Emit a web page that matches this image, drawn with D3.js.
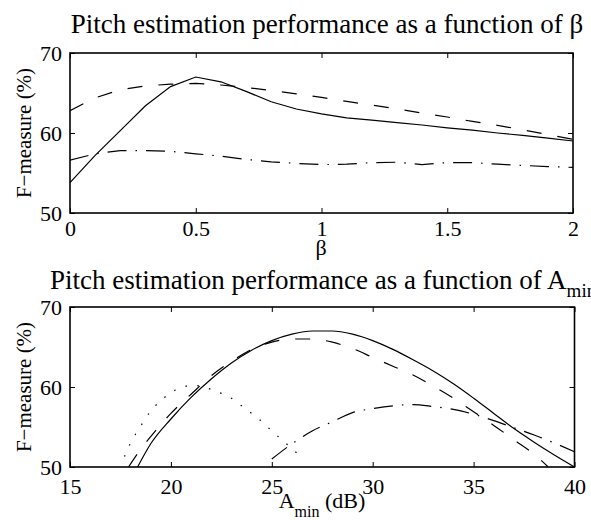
<!DOCTYPE html>
<html>
<head>
<meta charset="utf-8">
<script src="https://cdn.jsdelivr.net/npm/d3@7"></script>
<style>
  body { margin: 0; background: #fff; }
</style>
</head>
<body>
<div id="chart"></div>
<script>
// top panel: F-measure vs beta
const betaVals     = [0, 0.1, 0.2, 0.3, 0.4, 0.5, 0.6, 0.7, 0.8, 0.9, 1.0, 1.1, 1.2, 1.3, 1.4, 1.5, 1.6, 1.7, 1.8, 1.9, 2.0];
const betaSolid    = [53.8, 57.2, 60.3, 63.4, 65.8, 67.0, 66.4, 65.2, 63.9, 63.0, 62.4, 61.9, 61.6, 61.3, 61.0, 60.65, 60.35, 60.0, 59.7, 59.35, 59.0];
const betaDashed   = [62.8, 64.4, 65.4, 65.9, 66.1, 66.2, 66.0, 65.7, 65.3, 64.9, 64.45, 63.95, 63.5, 63.0, 62.5, 62.0, 61.45, 60.95, 60.4, 59.8, 59.2];
const betaDashDot  = [56.6, 57.4, 57.8, 57.8, 57.7, 57.4, 57.1, 56.7, 56.4, 56.2, 56.05, 56.1, 56.3, 56.35, 56.05, 56.3, 56.3, 56.1, 55.95, 55.8, 55.7];
const betaTicks    = [0, 0.5, 1, 1.5, 2];

// bottom panel: F-measure vs A_min (dB)
const aminSolidX   = [18.35, 19, 20, 21, 22, 23, 24, 25, 26, 27, 28, 29, 30, 31, 32, 33, 34, 35, 36, 37, 38, 39, 40];
const aminSolidY   = [50, 52.9, 56.0, 58.7, 61.0, 63.0, 64.6, 65.8, 66.6, 67.0, 67.0, 66.6, 65.8, 64.7, 63.4, 62.0, 60.4, 58.6, 56.7, 54.8, 53.1, 51.5, 50];
const aminDashedX  = [17.9, 18.5, 19, 20, 21, 22, 23, 24, 25, 26, 27, 28, 29, 30, 31, 32, 33, 34, 35, 36, 37, 38, 38.7];
const aminDashedY  = [50, 52.2, 53.8, 56.7, 59.1, 61.4, 63.2, 64.7, 65.6, 66.0, 66.0, 65.6, 64.8, 63.7, 62.6, 61.5, 60.1, 58.6, 56.9, 55.2, 53.4, 51.6, 50];
const aminDotX     = [17.7, 18, 18.5, 19, 19.5, 20, 20.5, 21, 21.5, 22, 22.5, 23, 23.5, 24, 24.5, 25, 25.5, 26, 26.6];
const aminDotY     = [51.3, 53.0, 55.1, 57.0, 58.3, 59.3, 59.9, 60.2, 60.1, 59.7, 59.2, 58.6, 57.65, 56.7, 55.7, 54.5, 53.4, 52.3, 50.9];
const aminDashDotX = [25, 26, 27, 28, 29, 30, 31, 32, 33, 34, 35, 36, 37, 38, 39, 40];
const aminDashDotY = [51.0, 52.9, 54.5, 55.65, 56.8, 57.3, 57.65, 57.8, 57.55, 57.2, 56.6, 55.8, 54.9, 54.0, 53.0, 51.9];
const aminTicks    = [15, 20, 25, 30, 35, 40];

const fTicks = [50, 60, 70];

const serif = "'Liberation Serif'";

const svg = d3.select("#chart").append("svg")
  .attr("width", 591)
  .attr("height", 520);

function zip(xs, ys){
  return xs.map((x, i) => [x, ys[i]]);
}

function drawPanel(p){
  let x = d3.scaleLinear().domain(p.xDomain).range([p.left, p.right]);
  let y = d3.scaleLinear().domain([50, 70]).range([p.bottom, p.top]);
  let g = svg.append("g");

  g.append("clipPath").attr("id", p.id + "-clip")
    .append("rect")
    .attr("x", p.left).attr("y", p.top)
    .attr("width", p.right - p.left).attr("height", p.bottom - p.top);

  let line = d3.line()
    .x(d => x(d[0]))
    .y(d => y(d[1]))
    .curve(p.curve);

  p.series.forEach(s => {
    g.append("path")
      .attr("d", line(s.data))
      .attr("clip-path", "url(#" + p.id + "-clip)")
      .attr("fill", "none")
      .attr("stroke", "#000")
      .attr("stroke-width", 1.2)
      .attr("stroke-dasharray", s.dash);
  });

  // ticks on all four sides, pointing in
  g.append("g").attr("transform", "translate(0," + p.bottom + ")")
    .call(d3.axisBottom(x).tickValues(p.xTicks).tickSize(-5).tickPadding(p.xPad).tickFormat(d => String(d)));
  g.append("g").attr("transform", "translate(0," + p.top + ")")
    .call(d3.axisTop(x).tickValues(p.xTicks).tickSize(-5).tickFormat(""));
  g.append("g").attr("transform", "translate(" + p.left + ",0)")
    .call(d3.axisLeft(y).tickValues(fTicks).tickSize(-5).tickPadding(8));
  g.append("g").attr("transform", "translate(" + p.right + ",0)")
    .call(d3.axisRight(y).tickValues(fTicks).tickSize(-5).tickFormat(""));

  g.selectAll(".domain").remove();
  g.selectAll(".tick line").attr("stroke", "#000").attr("stroke-width", 1);
  g.selectAll(".tick text")
    .style("font-family", serif)
    .style("font-size", "22px")
    .attr("fill", "#000");

  g.append("rect")
    .attr("x", p.left).attr("y", p.top)
    .attr("width", p.right - p.left).attr("height", p.bottom - p.top)
    .attr("fill", "none")
    .attr("stroke", "#000")
    .attr("stroke-width", 1.6);

  // y label
  g.append("text")
    .attr("transform", "translate(31," + ((p.top + p.bottom) / 2) + ") rotate(-90)")
    .attr("text-anchor", "middle")
    .style("font-family", serif)
    .style("font-size", "21px")
    .text("F\u2212measure (%)");

  return g;
}

let betaPanel = drawPanel({
  id: "beta",
  left: 70, right: 573, top: 53, bottom: 213,
  xDomain: [0, 2], xTicks: betaTicks, xPad: 7, curve: d3.curveLinear,
  series: [
    {data: zip(betaVals, betaSolid), dash: null},
    {data: zip(betaVals, betaDashed), dash: "15,16"},
    {data: zip(betaVals, betaDashDot), dash: "19,9,1.5,9"}
  ]
});

betaPanel.append("text")
  .attr("x", 327).attr("y", 33)
  .attr("text-anchor", "middle")
  .style("font-family", serif)
  .style("font-size", "27px")
  .text("Pitch estimation performance as a function of \u03b2");

betaPanel.append("text")
  .attr("x", 321).attr("y", 255)
  .attr("text-anchor", "middle")
  .style("font-family", serif)
  .style("font-size", "22px")
  .text("\u03b2");

let aminPanel = drawPanel({
  id: "amin",
  left: 70, right: 574.5, top: 307, bottom: 467,
  xDomain: [15, 40], xTicks: aminTicks, xPad: 11, curve: d3.curveMonotoneX,
  series: [
    {data: zip(aminSolidX, aminSolidY), dash: null},
    {data: zip(aminDashedX, aminDashedY), dash: "15,16"},
    {data: zip(aminDotX, aminDotY), dash: "1.5,10.5"},
    {data: zip(aminDashDotX, aminDashDotY), dash: "19,9,1.5,9"}
  ]
});

let t2 = aminPanel.append("text")
  .attr("x", 50).attr("y", 289)
  .style("font-family", serif)
  .style("font-size", "27px");
t2.append("tspan").text("Pitch estimation performance as a function of A");
t2.append("tspan").attr("dy", 8).style("font-size", "19px").text("min");

let xl = aminPanel.append("text")
  .attr("x", 322).attr("y", 508)
  .attr("text-anchor", "middle")
  .style("font-family", serif)
  .style("font-size", "22px");
xl.append("tspan").text("A");
xl.append("tspan").attr("dy", 9).style("font-size", "16px").text("min");
xl.append("tspan").attr("dy", -9).text(" (dB)");
</script>
</body>
</html>
